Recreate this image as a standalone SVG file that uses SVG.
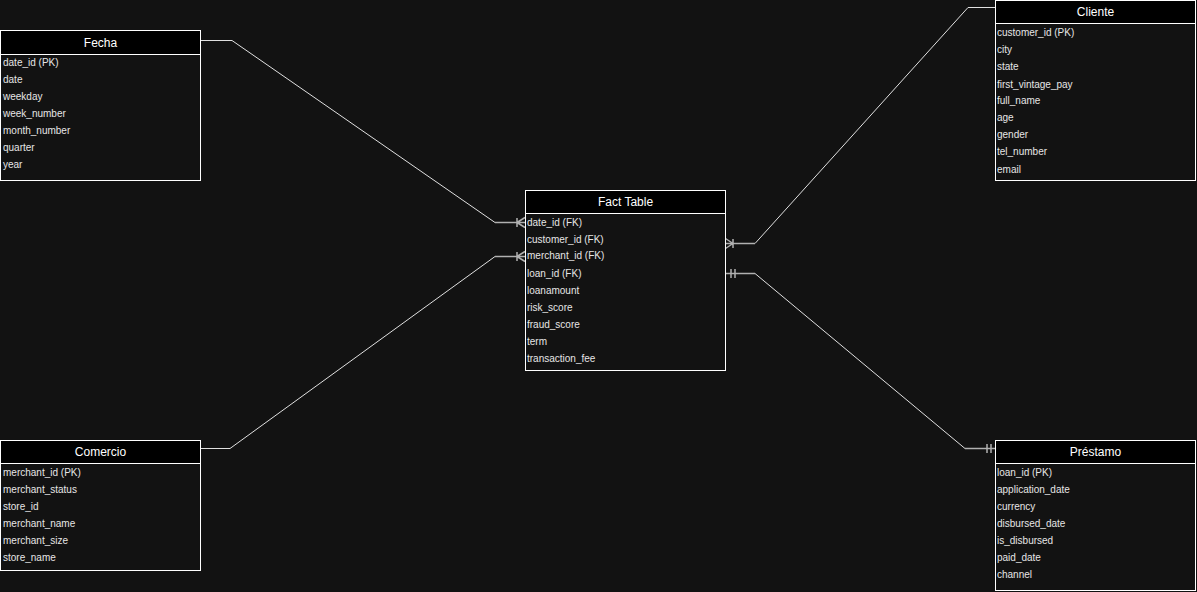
<svg xmlns="http://www.w3.org/2000/svg" width="1197" height="592" viewBox="0 0 1197 592">
<style>
.bg{fill:#121212}
.box{fill:#121212;stroke:#ffffff;stroke-width:1}
.hdr{fill:#000000;stroke:#ffffff;stroke-width:1}
.title{font-family:"Liberation Sans",Arial,sans-serif;font-size:12px;fill:#ffffff;text-anchor:middle}
.row{font-family:"Liberation Sans",Arial,sans-serif;font-size:10px;fill:#e6e6e6}
.ln{fill:none;stroke:#e0e0e0;stroke-width:1}
.end{fill:none;stroke:#b0b0b0;stroke-width:1.5}
</style>
<rect class="bg" x="0" y="0" width="1197" height="592"/>

<g id="connectors">
  <!-- Fecha to Fact -->
  <path class="ln" d="M200.5 40.5 L232 40.5 L495 222.5"/>
  <path class="end" d="M495 222.5 L525 222.5 M517 218 L517 227 M517 222.5 L525 217.5 M517 222.5 L525 227.5"/>
  <!-- Comercio to Fact -->
  <path class="ln" d="M200.5 448.5 L230 448.5 L495 256.5"/>
  <path class="end" d="M495 256.5 L525 256.5 M517 252 L517 261 M517 256.5 L525 251.5 M517 256.5 L525 261.5"/>
  <!-- Cliente to Fact -->
  <path class="ln" d="M995 7.5 L968 7.5 L755 243.5"/>
  <path class="end" d="M755 243.5 L725.5 243.5 M733 239 L733 248 M733 243.5 L725.5 238.5 M733 243.5 L725.5 248.5"/>
  <!-- Fact to Prestamo -->
  <path class="ln" d="M755 273.5 L965 448.5"/>
  <path class="end" d="M725.5 273.5 L755 273.5 M731 269 L731 278 M735 269 L735 278"/>
  <path class="end" d="M965 448.5 L995 448.5 M987 444 L987 453 M991 444 L991 453"/>
</g>

<g id="fecha">
  <rect class="box" x="0.5" y="30.5" width="200" height="150"/>
  <rect class="hdr" x="0.5" y="30.5" width="200" height="24"/>
  <text class="title" x="100.5" y="46.5">Fecha</text>
  <text class="row" x="3" y="66">date_id (PK)</text>
  <text class="row" x="3" y="83">date</text>
  <text class="row" x="3" y="100">weekday</text>
  <text class="row" x="3" y="117">week_number</text>
  <text class="row" x="3" y="134">month_number</text>
  <text class="row" x="3" y="151">quarter</text>
  <text class="row" x="3" y="168">year</text>
</g>

<g id="fact">
  <rect class="box" x="525.5" y="190.5" width="200" height="180"/>
  <rect class="hdr" x="525.5" y="190.5" width="200" height="23"/>
  <text class="title" x="625.5" y="206">Fact Table</text>
  <text class="row" x="527" y="226">date_id (FK)</text>
  <text class="row" x="527" y="243">customer_id (FK)</text>
  <text class="row" x="527" y="259">merchant_id (FK)</text>
  <text class="row" x="527" y="277">loan_id (FK)</text>
  <text class="row" x="527" y="294">loanamount</text>
  <text class="row" x="527" y="311">risk_score</text>
  <text class="row" x="527" y="328">fraud_score</text>
  <text class="row" x="527" y="345">term</text>
  <text class="row" x="527" y="362">transaction_fee</text>
</g>

<g id="cliente">
  <rect class="box" x="995.5" y="0.5" width="200" height="180"/>
  <rect class="hdr" x="995.5" y="0.5" width="200" height="23"/>
  <text class="title" x="1095.5" y="16">Cliente</text>
  <text class="row" x="997" y="36">customer_id (PK)</text>
  <text class="row" x="997" y="53">city</text>
  <text class="row" x="997" y="70">state</text>
  <text class="row" x="997" y="88">first_vintage_pay</text>
  <text class="row" x="997" y="104">full_name</text>
  <text class="row" x="997" y="121">age</text>
  <text class="row" x="997" y="138">gender</text>
  <text class="row" x="997" y="155">tel_number</text>
  <text class="row" x="997" y="173">email</text>
</g>

<g id="comercio">
  <rect class="box" x="0.5" y="440.5" width="200" height="130"/>
  <rect class="hdr" x="0.5" y="440.5" width="200" height="23"/>
  <text class="title" x="100.5" y="456">Comercio</text>
  <text class="row" x="3" y="476">merchant_id (PK)</text>
  <text class="row" x="3" y="493">merchant_status</text>
  <text class="row" x="3" y="510">store_id</text>
  <text class="row" x="3" y="527">merchant_name</text>
  <text class="row" x="3" y="544">merchant_size</text>
  <text class="row" x="3" y="561">store_name</text>
</g>

<g id="prestamo">
  <rect class="box" x="995.5" y="440.5" width="200" height="150"/>
  <rect class="hdr" x="995.5" y="440.5" width="200" height="23"/>
  <text class="title" x="1095.5" y="456">Préstamo</text>
  <text class="row" x="997" y="476">loan_id (PK)</text>
  <text class="row" x="997" y="493">application_date</text>
  <text class="row" x="997" y="510">currency</text>
  <text class="row" x="997" y="527">disbursed_date</text>
  <text class="row" x="997" y="544">is_disbursed</text>
  <text class="row" x="997" y="561">paid_date</text>
  <text class="row" x="997" y="578">channel</text>
</g>
</svg>
